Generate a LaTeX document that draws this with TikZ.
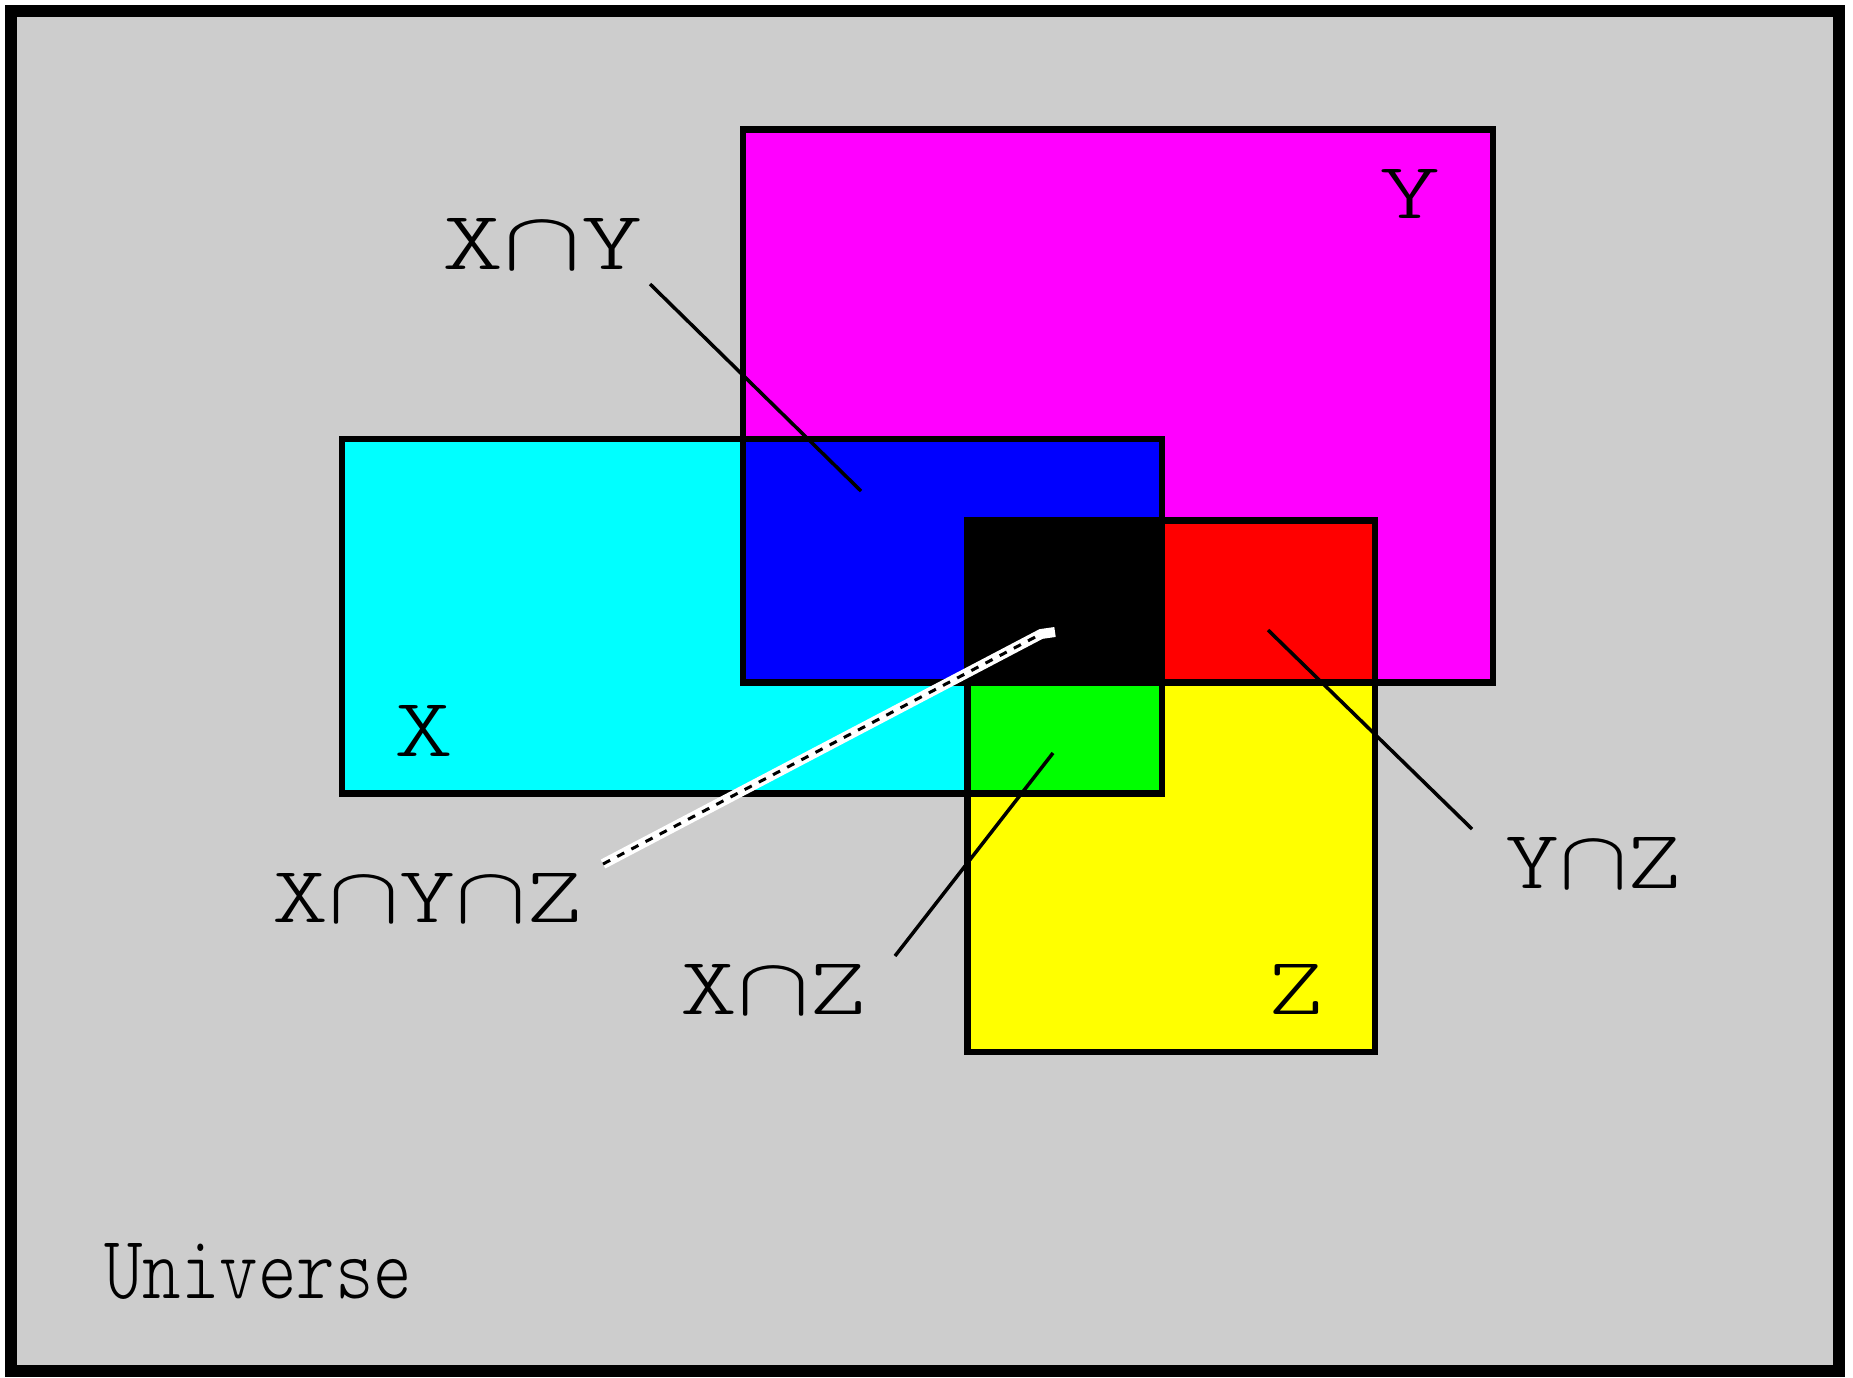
\documentclass[tikz,border=0pt]{standalone}
\usepackage{graphicx}
\usepackage{fontspec}
\newfontfamily\lightmono{Latin Modern Mono Light}
\definecolor{unigrey}{HTML}{CDCDCD}
\definecolor{cmag}{HTML}{FF00FF}
\definecolor{ccyan}{HTML}{00FFFF}
\definecolor{cblue}{HTML}{0000FF}
\definecolor{cred}{HTML}{FF0000}
\definecolor{cgreen}{HTML}{00FF00}
\definecolor{cyel}{HTML}{FFFF00}
\newcommand{\ic}{\ensuremath{\cap}}
\newcommand{\fitlab}[3]{\resizebox{#1pt}{#2pt}{\lightmono #3}}
\begin{document}
\begin{tikzpicture}[x=1pt,y=-1pt,
  setlab/.style={inner sep=0pt, anchor=base west},
  setedge/.style={draw=black, line width=6.5pt},
  pointer/.style={draw=black, line width=3.5pt},
  frameline/.style={draw=black, line width=12pt}]
\useasboundingbox (0,0) rectangle (1853,1377);
\fill[white] (0,0) rectangle (1853,1377);
% universe
\fill[unigrey] (10.5,10.5) rectangle (1839,1370.5);
\draw[frameline] (10.5,10.5) rectangle (1839,1370.5);
% fills
\fill[cmag] (743,129.5) rectangle (1493,682.5);
\fill[ccyan] (342,439) rectangle (1162,793.5);
\fill[cblue] (743,439) rectangle (1162,682.5);
\fill[cyel] (967.5,520.5) rectangle (1375,1052);
\fill[cred] (1162,520.5) rectangle (1375,682.5);
\fill[cgreen] (967.5,682.5) rectangle (1162,793.5);
\fill[black] (967.5,520.5) rectangle (1162,682.5);
% outlines
\draw[setedge] (743,129.5) rectangle (1493,682.5);
\draw[setedge] (342,439) rectangle (1162,793.5);
\draw[setedge] (967.5,520.5) rectangle (1375,1052);
% labels
\node[setlab] (labY) at (1379,218) {\fitlab{61}{49}{Y}};
\node[setlab] (labX) at (394,756) {\fitlab{59}{51}{X}};
\node[setlab] (labZ) at (1268,1014) {\fitlab{55}{50}{Z}};
\node[setlab] (labXY) at (442,269) {\fitlab{200}{51}{X\ic Y}};
\node[setlab] (labXYZ) at (272,922) {\fitlab{310}{49}{X\ic Y\ic Z}};
\node[setlab] (labXZ) at (680,1014) {\fitlab{186}{50}{X\ic Z}};
\node[setlab] (labYZ) at (1505,888) {\fitlab{176}{51}{Y\ic Z}};
\node[setlab] (labU) at (104,1298) {\fitlab{308}{55}{Universe}};
% pointer ends
\coordinate (xyA) at (650,284);
\coordinate (xyB) at (861,491);
\coordinate (yzA) at (1268,630);
\coordinate (yzB) at (1472,829);
\coordinate (xzA) at (1053,753);
\coordinate (xzB) at (895,956);
\coordinate (xyzA) at (603,864);
\coordinate (xyzK) at (1041,634);
\coordinate (xyzB) at (1055,632);
\draw[pointer] (xyA) -- (xyB);
\draw[pointer] (yzA) -- (yzB);
\draw[pointer] (xzA) -- (xzB);
\draw[white, line width=10pt] (xyzA) -- (xyzK) -- (xyzB);
\draw[black, line width=3pt, dash pattern=on 8pt off 8pt] (xyzA) -- (xyzK);
\end{tikzpicture}
\end{document}
